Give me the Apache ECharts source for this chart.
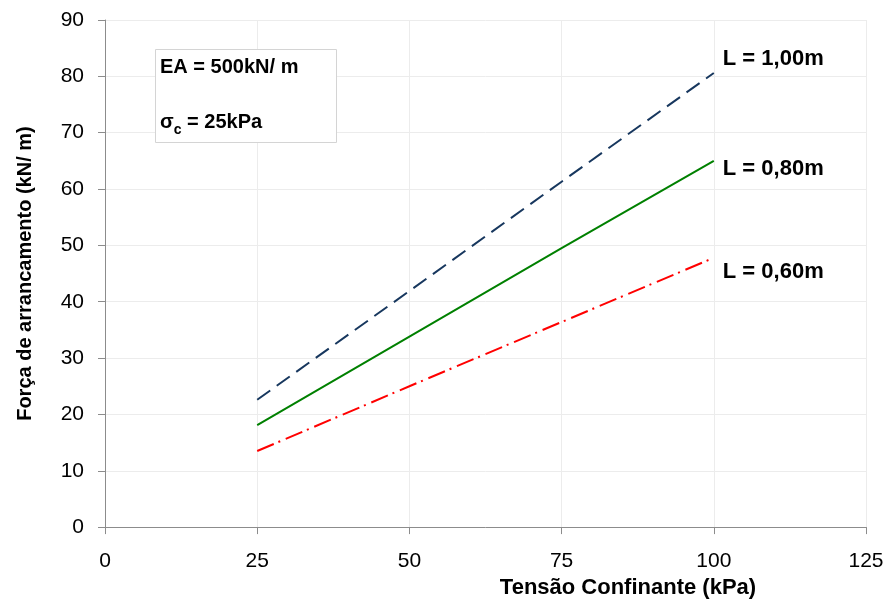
<!DOCTYPE html>
<html>
<head>
<meta charset="utf-8">
<script src="https://cdn.jsdelivr.net/npm/echarts@6/dist/echarts.min.js"></script>
<style>
  html, body { margin: 0; padding: 0; background: #fff; }
  #chart { width: 891px; height: 604px; }
</style>
</head>
<body>
<div id="chart"></div>
<script>
// Confining stress (kPa) on the x axis
const tensao = [25, 50, 75, 100];
// Pull-out force (kN/m) for each anchorage length
const forcaL100 = [22.6, 41.9, 61.3, 80.6];
const forcaL080 = [18.1, 33.8, 49.5, 65.0];
const forcaL060 = [13.5, 25.0, 36.4, 47.8];
const nomes = ['L = 1,00m', 'L = 0,80m', 'L = 0,60m'];
const xTicks = [0, 25, 50, 75, 100, 125];
const yTicks = [0, 10, 20, 30, 40, 50, 60, 70, 80, 90];

const FONT = '"Liberation Sans", Arial, sans-serif';
const pares = (xs, ys) => xs.map((x, i) => [x, ys[i]]);

const chart = echarts.init(document.getElementById('chart'), null, { renderer: 'canvas' });

function serie(nome, dados, cor, tipo, offsetY) {
  return {
    name: nome,
    type: 'line',
    data: pares(tensao, dados),
    showSymbol: false,
    symbol: 'none',
    lineStyle: { color: cor, width: 2, type: tipo },
    itemStyle: { color: cor },
    endLabel: {
      show: true,
      formatter: nome,
      fontFamily: FONT,
      fontWeight: 'bold',
      fontSize: 22,
      color: '#000',
      offset: [1, offsetY]
    },
    animation: false
  };
}

chart.setOption({
  backgroundColor: '#fff',
  animation: false,
  grid: { left: 105, right: 25, top: 20, bottom: 76 },
  xAxis: {
    type: 'value',
    min: xTicks[0],
    max: xTicks[xTicks.length - 1],
    interval: 25,
    name: 'Tensão Confinante (kPa)',
    nameLocation: 'middle',
    nameGap: 49,
    nameTextStyle: {
      fontFamily: FONT, fontWeight: 'bold', fontSize: 22, color: '#000',
      padding: [0, 0, 0, 285]
    },
    axisLine: { show: true, onZero: false, lineStyle: { color: '#8c8c8c', width: 1 } },
    axisTick: { show: true, length: 7, lineStyle: { color: '#8c8c8c' } },
    axisLabel: { fontFamily: FONT, fontSize: 21, color: '#000', margin: 24 },
    splitLine: { show: true, lineStyle: { color: '#ececec', width: 1 } }
  },
  yAxis: {
    type: 'value',
    min: yTicks[0],
    max: yTicks[yTicks.length - 1],
    interval: 10,
    name: 'Força de arrancamento (kN/ m)',
    nameLocation: 'middle',
    nameGap: 70,
    nameRotate: 90,
    nameTextStyle: { fontFamily: FONT, fontWeight: 'bold', fontSize: 20, color: '#000' },
    axisLine: { show: true, lineStyle: { color: '#8c8c8c', width: 1 } },
    axisTick: { show: true, length: 7, lineStyle: { color: '#8c8c8c' } },
    axisLabel: { fontFamily: FONT, fontSize: 21, color: '#000', margin: 21 },
    splitLine: { show: true, lineStyle: { color: '#ececec', width: 1 } }
  },
  series: [
    serie(nomes[0], forcaL100, '#17375e', [16, 8], -14),
    serie(nomes[1], forcaL080, '#008000', 'solid', 8),
    serie(nomes[2], forcaL060, '#ff0000', [18, 5, 2, 6], 14)
  ],
  graphic: [
    {
      type: 'rect',
      left: 155, top: 49,
      shape: { width: 181, height: 93 },
      style: { fill: '#fff', stroke: '#d4d4d4', lineWidth: 1 },
      z: 10
    },
    {
      type: 'text',
      left: 160, top: 57,
      style: {
        text: 'EA = 500kN/ m',
        font: 'bold 20px ' + FONT,
        fill: '#000'
      },
      z: 11
    },
    {
      type: 'text',
      left: 160, top: 112,
      style: {
        text: '{s|σ}{sub|c}{s| = 25kPa}',
        rich: {
          s: { font: 'bold 20px ' + FONT, fill: '#000', verticalAlign: 'top' },
          sub: { font: 'bold 14px ' + FONT, fill: '#000', padding: [11, 0, 0, 0] }
        }
      },
      z: 11
    }
  ]
});
</script>
</body>
</html>
